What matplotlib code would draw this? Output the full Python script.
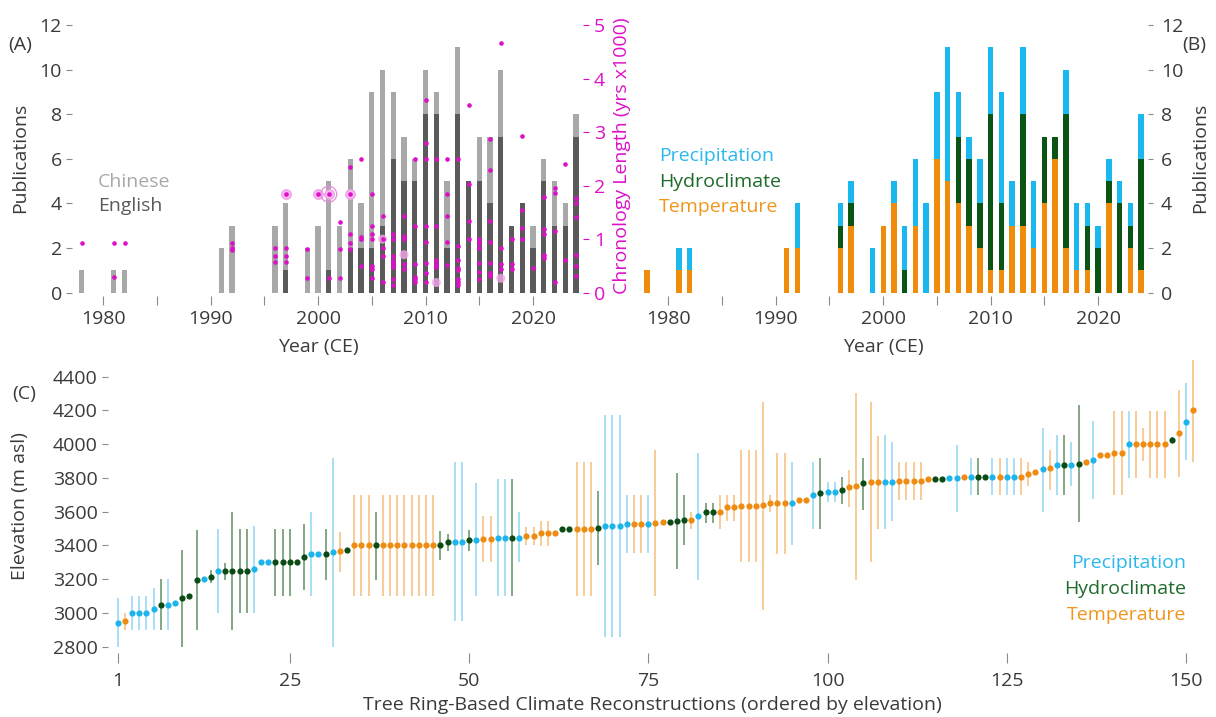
import numpy as np
import matplotlib
matplotlib.use("Agg")
import matplotlib.pyplot as plt

plt.rcParams['font.family'] = ['Open Sans', 'DejaVu Sans']
plt.rcParams['font.size'] = 14

# ---------------- data ----------------
years = [1978, 1981, 1982, 1991, 1992, 1996, 1997, 1999, 2000, 2001, 2002, 2003, 2004,
         2005, 2006, 2007, 2008, 2009, 2010, 2011, 2012, 2013, 2014, 2015, 2016, 2017,
         2018, 2019, 2020, 2021, 2022, 2023, 2024]
pubs_total = [1, 1, 1, 2, 3, 3, 4, 2, 3, 5, 3, 6, 4, 9, 10, 9, 7, 6, 10, 9, 5, 11, 5, 7, 7,
              10, 3, 4, 3, 6, 5, 4, 8]
pubs_english = [0, 0, 0, 0, 0, 0, 1, 0, 0, 1, 0, 2, 2, 2, 3, 6, 5, 5, 8, 8, 2, 8, 5, 5, 4,
                7, 3, 4, 2, 5, 3, 3, 7]

chron_lengths = {
    1978: [0.92], 1981: [0.92, 0.30], 1982: [0.93],
    1992: [0.93, 0.84, 0.79], 1996: [0.84, 0.68, 0.58], 1997: [1.84, 0.84, 0.68, 0.58],
    1999: [0.82, 0.28], 2000: [1.84], 2001: [1.84, 0.28], 2002: [1.32, 0.82, 0.28],
    2003: [2.34, 1.84, 1.10, 0.93, 0.82], 2004: [2.50, 1.04, 1.00, 0.50],
    2005: [1.84, 1.24, 1.10, 1.00, 0.50, 0.45, 0.27],
    2006: [1.44, 1.00, 0.84, 0.68, 0.20],
    2007: [1.09, 1.00, 0.68, 0.60, 0.54, 0.48, 0.26, 0.14],
    2008: [1.44, 1.06, 1.00, 0.54, 0.45],
    2009: [2.50, 1.24, 0.54, 0.30, 0.25, 0.20],
    2010: [3.59, 2.80, 2.50, 1.24, 0.95, 0.56, 0.36, 0.20],
    2011: [2.50, 1.24, 0.62, 0.54, 0.48],
    2012: [2.50, 1.84, 1.44, 0.95, 0.51],
    2013: [2.50, 0.88, 0.62, 0.47, 0.42, 0.26, 0.20, 0.14],
    2014: [3.51, 2.03, 1.34, 1.00],
    2015: [1.00, 0.92, 0.84, 0.56, 0.39, 0.26],
    2016: [2.87, 2.29, 1.34, 0.95, 0.56, 0.37, 0.31],
    2017: [4.66, 0.84, 0.54, 0.45],
    2018: [1.00, 0.54, 0.45], 2019: [2.93, 1.55, 1.21, 1.00], 2020: [0.47],
    2021: [1.78, 1.19, 1.10, 0.70, 0.64], 2022: [1.96, 1.87, 1.16, 0.20],
    2023: [2.41, 0.62], 2024: [1.77, 1.68, 1.41, 0.70, 0.50, 0.31],
}
# overlapping chronologies, drawn as haloes
halo_years = [1997, 2000, 2001, 2003]
halo_lengths = [1.84, 1.84, 1.84, 1.84]
faint_years = [2006, 2008, 2011, 2017]
faint_lengths = [1.00, 0.71, 0.19, 0.27]

temp_pubs = [1, 1, 1, 2, 2, 2, 3, 0, 3, 4, 0, 3, 0, 6, 5, 4, 3, 2, 1, 1, 3, 3, 2, 4, 6, 2,
             1, 1, 0, 4, 0, 2, 1]
hydro_pubs = [0, 0, 0, 0, 0, 1, 1, 0, 0, 0, 1, 0, 0, 0, 0, 3, 3, 2, 7, 3, 0, 5, 0, 3, 1, 6,
              0, 2, 2, 1, 4, 1, 5]
precip_pubs = [0, 1, 1, 0, 2, 1, 1, 2, 0, 1, 2, 3, 4, 3, 6, 2, 1, 2, 3, 5, 2, 3, 3, 0, 0, 2,
               3, 1, 1, 1, 1, 1, 2]

elevation = [
    2940, 2950, 3000, 3000, 3000, 3025, 3050, 3050, 3060, 3090,
    3100, 3195, 3200, 3215, 3250, 3250, 3250, 3250, 3250, 3260,
    3300, 3300, 3300, 3300, 3300, 3300, 3330, 3350, 3350, 3350,
    3360, 3365, 3375, 3400, 3400, 3400, 3400, 3400, 3400, 3400,
    3400, 3400, 3400, 3400, 3400, 3402, 3418, 3422, 3422, 3432,
    3432, 3438, 3438, 3446, 3446, 3446, 3446, 3458, 3458, 3472,
    3472, 3472, 3497, 3497, 3497, 3497, 3497, 3501, 3517, 3517,
    3517, 3525, 3525, 3525, 3525, 3535, 3541, 3541, 3547, 3551,
    3551, 3576, 3596, 3596, 3600, 3626, 3626, 3634, 3634, 3634,
    3637, 3649, 3649, 3649, 3649, 3667, 3667, 3700, 3709, 3719,
    3719, 3728, 3744, 3752, 3768, 3776, 3776, 3778, 3778, 3784,
    3784, 3784, 3784, 3794, 3794, 3794, 3800, 3800, 3803, 3808,
    3808, 3808, 3808, 3808, 3808, 3808, 3808, 3823, 3837, 3851,
    3857, 3877, 3877, 3877, 3882, 3896, 3906, 3936, 3936, 3950,
    3950, 4000, 4000, 4000, 4000, 4000, 4000, 4025, 4068, 4133,
    4203]
recon_type = ("PTPPPPHPPH" "HHPHPHHHHP" "PPHHHHHPPH" "PTHTTTHTTT" "TTTTTHHPPH"
              "PTTPPHPTTT" "TTHHTTTHPP" "PPTTPTTHHH" "TPHHTTTTTT" "TTTTPTTPHP"
              "PHTTHTTPPT" "TTTTHHPPTP" "HHPTPPTTTP" "TPHPHTPTTT" "TPTTTTTHTP" "T")
N = None
err_low = [
    2800, 2900, 2900, 2900, 2900, 2900, 2900, 2900, N, 2800,
    N, 2900, N, 3175, 3000, 3195, 2900, 3000, 3000, 3000,
    N, N, 3100, 3100, 3100, N, 3135, 3100, N, 3195,
    2800, 3245, N, 3100, 3100, 3100, 3195, 3100, 3100, 3100,
    3100, 3100, 3100, 3100, 3100, 3315, 3365, 2950, 2950, 3365,
    3100, 3300, 3300, 3100, 3100, 3100, 3300, 3405, 3405, 3395,
    3395, N, N, N, 3100, 3100, 3100, 3285, 2860, 2860,
    2860, 3355, 3355, 3355, 3355, 3100, N, N, 3260, 3400,
    3500, 3195, 3535, 3535, 3500, 3545, 3545, 3300, 3300, 3300,
    3020, 3600, 3350, 3350, 3400, N, N, 3500, 3500, 3660,
    3660, 3645, 3630, 3195, 3610, 3300, 3500, 3495, 3545, 3670,
    3670, 3670, 3670, N, N, N, N, 3600, N, 3700,
    3700, N, 3700, 3700, 3700, 3700, 3700, 3750, N, 3600,
    3730, 3700, 3700, 3750, 3540, N, 3675, N, N, 3700,
    3700, 3800, 3800, 3900, 3800, 3800, 3800, 4005, 3805, 3905,
    3895]
err_high = [
    3090, 3000, 3100, 3100, 3100, 3150, 3200, 3200, N, 3370,
    N, 3490, N, 3255, 3500, 3295, 3600, 3500, 3500, 3515,
    N, N, 3500, 3500, 3500, N, 3525, 3600, N, 3495,
    3915, 3480, N, 3700, 3700, 3700, 3595, 3700, 3700, 3700,
    3700, 3700, 3700, 3700, 3700, 3485, 3470, 3895, 3895, 3490,
    3770, 3575, 3575, 3795, 3795, 3795, 3595, 3510, 3510, 3545,
    3545, N, N, N, 3895, 3895, 3895, 3720, 4175, 4175,
    4175, 3700, 3700, 3700, 3700, 3965, N, N, 3830, 3700,
    3600, 3950, 3650, 3650, 3700, 3700, 3700, 3965, 3965, 3965,
    4250, 3700, 3950, 3950, 3895, N, N, 3895, 3915, 3775,
    3775, 3805, 3845, 4300, 3915, 4250, 4050, 4055, 4010, 3895,
    3895, 3895, 3895, N, N, N, N, 3995, N, 3915,
    3915, N, 3915, 3915, 3915, 3915, 3915, 3895, N, 4095,
    3965, 4055, 4055, 4015, 4230, N, 4135, N, N, 4195,
    4195, 4195, 4195, 4095, 4195, 4195, 4195, 4045, 4320, 4360,
    4500]

# ---------------- style ----------------
W, H = 1216, 717
TXT = '#3a3a3a'
TICK = '#8a8a8a'
MAG = '#dd10c8'
C_ENG, C_CHN = '#5a5a5a', '#a8a8a8'
C_T, C_H, C_P = '#ef8c0c', '#0b5514', '#1ab8ee'
PT_COL = {'P': '#1cb4ea', 'H': '#0a4a14', 'T': '#ee8b10'}
BAR_COL = {'P': '#9bd9f3', 'H': '#6e9a70', 'T': '#f6c385'}
LEG_COL = {'P': '#2bb8ee', 'H': '#1e6a2a', 'T': '#f0961e'}

fig = plt.figure(figsize=(W / 100, H / 100), dpi=100)


def px_axes(l, t, r, b):
    return fig.add_axes([l / W, 1 - b / H, (r - l) / W, (b - t) / H])


def clean(ax):
    for s in ax.spines.values():
        s.set_visible(False)


xlim_years = (1977.3, 2024.6)
dec_ticks = list(range(1980, 2021, 5))
dec_labels = [str(t) if t % 10 == 0 else '' for t in dec_ticks]

# ---------------- Panel A ----------------
axA = px_axes(74, 25, 582.5, 292.7)
chinese = np.array(pubs_total) - np.array(pubs_english)
axA.bar(years, pubs_english, width=0.5, color=C_ENG, zorder=2)
axA.bar(years, chinese, bottom=pubs_english, width=0.5, color=C_CHN, zorder=2)
axA.set_xlim(*xlim_years)
axA.set_ylim(0, 12)
axA.set_yticks(range(0, 13, 2))
axA.set_xticks(dec_ticks, dec_labels)
clean(axA)
axA.spines['left'].set_position(('outward', 1.5))
axA.spines['bottom'].set_position(('outward', 2.4))
axA.tick_params(axis='y', length=4.3, width=0.8, color=TICK, labelcolor=TXT, pad=3)
axA.tick_params(axis='x', length=6.5, width=0.8, color=TICK, labelcolor=TXT, pad=3.5)

axA2 = axA.twinx()
clean(axA2)
dot_x = [y for y, vals in chron_lengths.items() for _ in vals]
dot_y = [v for vals in chron_lengths.values() for v in vals]
axA2.scatter(halo_years, halo_lengths, s=48, facecolor='#f6b8ee', edgecolor='#ee9ce4',
             linewidth=0.8, zorder=3)
axA2.scatter([2001], [1.84], s=130, facecolor='none', edgecolor='#e88ade',
             linewidth=0.9, zorder=3)
axA2.scatter(faint_years, faint_lengths, s=42, facecolor='#f3a8ea', edgecolor='none',
             alpha=0.8, zorder=3)
axA2.scatter(dot_x, dot_y, s=11, color=MAG, linewidth=0, zorder=4)
axA2.set_ylim(0, 5)
axA2.set_yticks(range(0, 6))
axA2.tick_params(axis='y', length=4.3, width=0.8, color=MAG, labelcolor=MAG, pad=4)

fig.text(8 / W, 1 - 45 / H, '(A)', color=TXT, ha='left', va='center')
fig.text(20 / W, 1 - 158 / H, 'Publications', color=TXT, rotation=90, ha='center', va='center')
fig.text(622 / W, 1 - 156 / H, 'Chronology Length (yrs x1000)', color=MAG, rotation=90,
         ha='center', va='center')
fig.text(98 / W, 1 - 182 / H, 'Chinese', color=C_CHN, ha='left', va='center')
fig.text(98 / W, 1 - 206 / H, 'English', color=C_ENG, ha='left', va='center')
fig.text(318 / W, 1 - 347 / H, 'Year (CE)', color=TXT, ha='center', va='center')

# ---------------- Panel B ----------------
axB = px_axes(639.3, 25, 1147.5, 292.7)
hb = np.array(temp_pubs)
axB.bar(years, temp_pubs, width=0.5, color=C_T, zorder=2)
axB.bar(years, hydro_pubs, bottom=hb, width=0.5, color=C_H, zorder=2)
axB.bar(years, precip_pubs, bottom=hb + np.array(hydro_pubs), width=0.5, color=C_P, zorder=2)
axB.set_xlim(*xlim_years)
axB.set_ylim(0, 12)
axB.set_yticks(range(0, 13, 2))
axB.set_xticks(dec_ticks, dec_labels)
axB.yaxis.tick_right()
clean(axB)
axB.spines['bottom'].set_position(('outward', 2.4))
axB.tick_params(axis='y', length=3.5, width=0.8, color=TICK, labelcolor=TXT, pad=6)
axB.tick_params(axis='x', length=6.5, width=0.8, color=TICK, labelcolor=TXT, pad=3.5)

fig.text(1182 / W, 1 - 45 / H, '(B)', color=TXT, ha='left', va='center')
fig.text(1200 / W, 1 - 158 / H, 'Publications', color=TXT, rotation=90, ha='center', va='center')
fig.text(659 / W, 1 - 156 / H, 'Precipitation', color=LEG_COL['P'], ha='left', va='center')
fig.text(659 / W, 1 - 182 / H, 'Hydroclimate', color=LEG_COL['H'], ha='left', va='center')
fig.text(659 / W, 1 - 207 / H, 'Temperature', color=LEG_COL['T'], ha='left', va='center')
fig.text(883 / W, 1 - 347 / H, 'Year (CE)', color=TXT, ha='center', va='center')

# ---------------- Panel C ----------------
axC = px_axes(110.5, 358, 1200.4, 650.1)
idx = np.arange(1, len(elevation) + 1)
lo = np.array([np.nan if v is None else v for v in err_low], dtype=float)
hi = np.array([np.nan if v is None else v for v in err_high], dtype=float)
elev = np.array(elevation, dtype=float)
types = np.array(list(recon_type))
for t in 'PHT':
    m = (types == t) & ~np.isnan(lo)
    axC.vlines(idx[m], lo[m], hi[m], color=BAR_COL[t], linewidth=1.2, zorder=2)
for t in 'PHT':
    m = types == t
    axC.scatter(idx[m], elev[m], s=20, color=PT_COL[t], linewidth=0, zorder=3)
axC.set_xlim(0, 152)
axC.set_ylim(2780, 4510)
axC.set_yticks(range(2800, 4401, 200))
axC.set_xticks([1, 25, 50, 75, 100, 125, 150])
clean(axC)
axC.spines['left'].set_position(('outward', 1.8))
axC.spines['bottom'].set_position(('outward', 2.2))
axC.tick_params(axis='y', length=4.3, width=0.8, color=TICK, labelcolor=TXT, pad=3)
axC.tick_params(axis='x', length=7, width=0.8, color=TICK, labelcolor=TXT, pad=6.5)

fig.text(12 / W, 1 - 394 / H, '(C)', color=TXT, ha='left', va='center')
fig.text(20 / W, 1 - 506 / H, 'Elevation (m asl)', color=TXT, rotation=90, ha='center',
         va='center')
fig.text(652 / W, 1 - 705 / H, 'Tree Ring-Based Climate Reconstructions (ordered by elevation)',
         color=TXT, ha='center', va='center')
fig.text(1186 / W, 1 - 563 / H, 'Precipitation', color=LEG_COL['P'], ha='right', va='center')
fig.text(1186 / W, 1 - 589 / H, 'Hydroclimate', color=LEG_COL['H'], ha='right', va='center')
fig.text(1186 / W, 1 - 615 / H, 'Temperature', color=LEG_COL['T'], ha='right', va='center')

fig.savefig('out.png', dpi=100)
